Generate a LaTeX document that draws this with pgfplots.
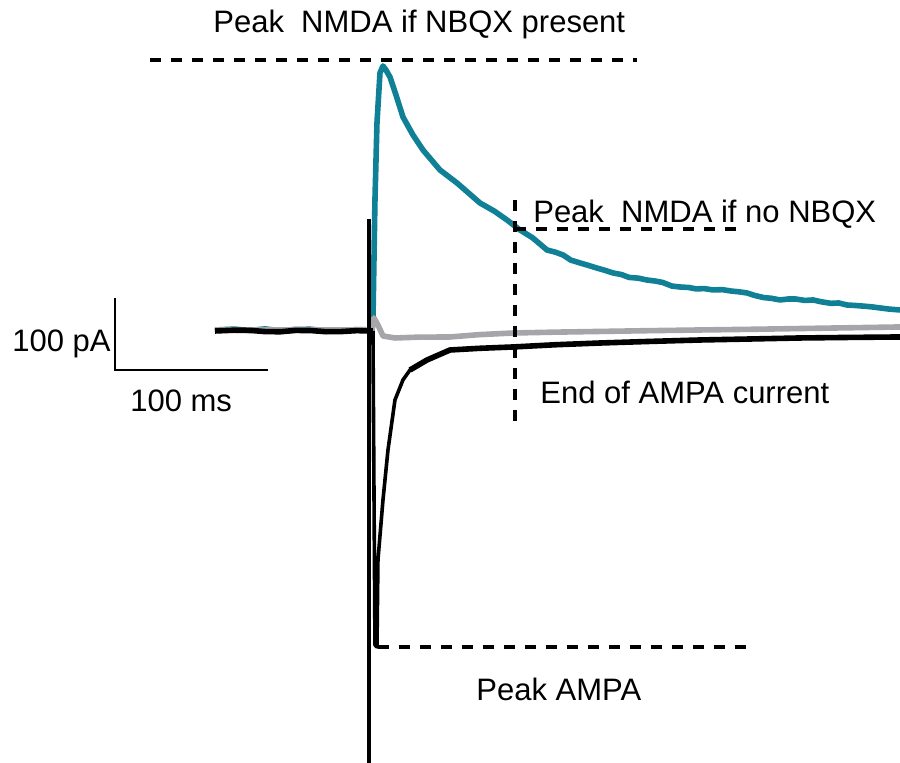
\documentclass[border=0pt]{standalone}
\usepackage{pgfplots}
\pgfplotsset{compat=1.18}
\usepackage{fontspec}
\setmainfont{Liberation Sans}

\definecolor{nmdateal}{RGB}{16,128,150}
\definecolor{nbqxgray}{RGB}{166,165,170}

\tikzset{
  guide/.style={black, line width=2pt, dash pattern=on 5.5pt off 5pt},
  lbl/.style={font=\fontsize{15.5}{18}\selectfont, inner sep=0pt, anchor=base west},
}

\begin{document}
\begin{tikzpicture}
\begin{axis}[
  name=ax,
  width=450pt, height=381.5pt, scale only axis,
  xmin=-243.1, xmax=345.1,
  ymin=-601.4, ymax=458.3,
  hide axis, clip=false,
]
% time in ms (stimulus at 0), current in pA

% NMDA current, recorded at +40 mV with NBQX
\addplot[nmdateal, line width=2.8pt, line join=round] coordinates {
  (-102.6,0) (-90,1.2) (-80,-0.8) (-70,1.5) (-60,-1) (-50,0.8) (-40,1) (-30,-1.2)
  (-20,-1.5) (-10,0.6) (0,0) (0.65,13.9) (1.96,180.6)
  (3.27,287.5) (5.23,356.9) (7.19,366.7) (9.15,361.1) (11.76,351.4)
  (15.69,326.4) (20.26,295.8) (26.80,270.8) (33.33,250) (44.44,222.2)
  (55.56,204.2) (70.59,176.4) (80,165) (88.24,152.8) (96.73,138.9) (105,128)
  (114.38,111.1) (120,108) (125,104) (130,97) (135.95,93.1) (141,90) (147,86)
  (152,83) (157.52,79.2) (163,77) (168,73) (174,72) (179.74,69.4) (185,68)
  (190,66) (196,61) (201.31,59.7) (207,59) (212,57) (217,57.5) (222.88,55.6)
  (229,56) (235,54) (240,53) (245.10,51.4) (250,48) (256,45) (261,44)
  (266.67,41.7) (272,43) (277,43) (283,41) (288.24,41.7) (294,39)
  (300,37) (305,37.5) (310.46,34.7) (316,34) (322,33) (327,32) (332.03,30.6)
  (338,29) (345.10,27.8)
};

% residual current after NBQX
\addplot[nbqxgray, line width=2.8pt, line join=round] coordinates {
  (-102.6,0) (0,0) (1.31,16.7) (3.92,6.9) (7.19,-8.3) (15.03,-11.1)
  (30,-10) (50.98,-9.7) (70,-6.5) (92.16,-4.2) (120,-3) (150,-2)
  (180,-1) (214.4,0) (250,1) (280,2) (310,3) (345.1,4.2)
};

% AMPA current, control: baseline
\addplot[black, line width=2.8pt, line join=round] coordinates {
  (-102.6,-1.4) (-90,-0.3) (-80,-0.5) (-70,-2.2) (-60,-2.5) (-50,-0.6)
  (-40,-0.8) (-30,-2.4) (-20,-2.2) (-10,-0.9) (-1.31,-1.4) (0.65,-1.4)
};
% AMPA current, control: fast transient
\addplot[black, line width=1.8pt, line join=round] coordinates {
  (0.65,-1.4) (1.96,-437.5) (3.27,-440.3) (3.92,-319.4) (7.19,-236.1)
  (10.46,-166.7) (15.03,-97.2) (20.26,-69.4) (24.84,-55.6) (35.95,-41.7)
};
% AMPA current, control: slow tail
\addplot[black, line width=2.8pt, line join=round] coordinates {
  (24.84,-55.6) (35.95,-41.7) (50.98,-27.8) (70,-25.5) (92.16,-23.6)
  (120,-20.5) (149.0,-18.1) (180,-16) (214.4,-13.9) (250,-12.4)
  (279.7,-11.1) (310,-10.4) (345.1,-9.7)
};

% stimulus artefact
\addplot[black, line width=1.6pt] coordinates {(-1.96,154.2) (-1.96,-601.4)};

% scale bar: 100 pA, 100 ms
\addplot[black, line width=1pt] coordinates {(-168.0,44.4) (-168.0,-55.6) (-68.0,-55.6)};

% measurement guides
\draw[guide] (axis cs:-145.1,375) -- (axis cs:173.2,375);
\draw[guide] (axis cs:93.5,140.3) -- (axis cs:243.8,140.3);
\draw[guide] (axis cs:93.5,180.6) -- (axis cs:93.5,-131.9);
\draw[guide] (axis cs:3.9,-440.3) -- (axis cs:250.3,-440.3);

% labels
\node[lbl] at (axis cs:-103.9,412.5) {Peak\ \ NMDA if NBQX present};
\node[lbl] at (axis cs:105.2,148.6) {Peak\ \ NMDA if no NBQX};
\node[lbl] at (axis cs:109.8,-102.8) {End of AMPA current};
\node[lbl] at (axis cs:68.0,-515.3) {Peak AMPA};
\node[lbl] at (axis cs:-235.3,-29.2) {100 pA};
\node[lbl] at (axis cs:-158.2,-113.9) {100 ms};
\end{axis}
\pgfresetboundingbox
\path (ax.south west) rectangle (ax.north east);
\end{tikzpicture}
\end{document}
